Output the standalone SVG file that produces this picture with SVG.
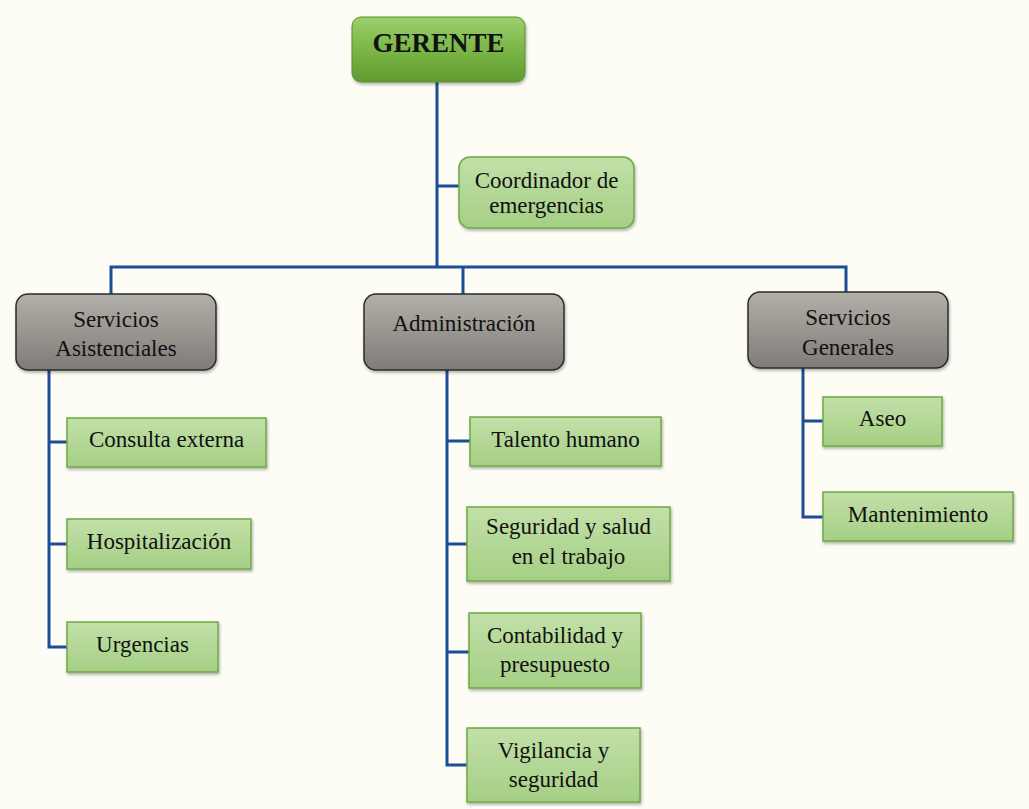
<svg xmlns="http://www.w3.org/2000/svg" width="1029" height="809" viewBox="0 0 1029 809">
<defs>
<linearGradient id="gTop" x1="0" y1="0" x2="0" y2="1">
<stop offset="0" stop-color="#9ccf6e"/><stop offset="0.5" stop-color="#7bb647"/><stop offset="1" stop-color="#5f9a2e"/>
</linearGradient>
<linearGradient id="gGrey" x1="0" y1="0" x2="0" y2="1">
<stop offset="0" stop-color="#b3afa9"/><stop offset="1" stop-color="#7f7b76"/>
</linearGradient>
<linearGradient id="gLight" x1="0" y1="0" x2="0" y2="1">
<stop offset="0" stop-color="#c2e0a8"/><stop offset="1" stop-color="#a5cf85"/>
</linearGradient>
<filter id="sh" x="-10%" y="-10%" width="120%" height="130%">
<feDropShadow dx="1" dy="2" stdDeviation="1.5" flood-color="#000" flood-opacity="0.3"/>
</filter>
</defs>
<style>
.t{font-family:"Liberation Serif","DejaVu Serif","Times New Roman",serif;font-size:23px;fill:#111;text-anchor:middle}
.tb{font-family:"Liberation Serif","DejaVu Serif","Times New Roman",serif;font-size:27px;font-weight:bold;fill:#111;text-anchor:middle}
.top{fill:url(#gTop);stroke:#5a8f2c;stroke-width:1}
.grey{fill:url(#gGrey);stroke:#2b2b2b;stroke-width:1.5}
.leaf{fill:url(#gLight);stroke:#6fa843;stroke-width:1.5}
.c{fill:none;stroke:#1d4d99;stroke-width:3}
</style>
<rect width="1029" height="809" fill="#fdfdf6"/>
<g id="connectors">
<path class="c" d="M437 82V267M437 186H459"/>
<path class="c" d="M111 294V267H846V292M463 267V294"/>
<path class="c" d="M49 370V647H67M49 442H67M49 544H67"/>
<path class="c" d="M447 370V765H467M447 441H470M447 544H467M447 652H469"/>
<path class="c" d="M803 368V517H823M803 421H823"/>
</g>
<g id="gerente"><rect class="top" x="352" y="17" width="173" height="65" rx="9" filter="url(#sh)"/><text class="tb" x="438.5" y="52">GERENTE</text></g>
<g id="coordinador"><rect class="leaf" x="459" y="157" width="175" height="71" rx="11" filter="url(#sh)"/><text class="t" x="546.5" y="188">Coordinador de</text><text class="t" x="546.5" y="213">emergencias</text></g>
<g id="asistenciales"><rect class="grey" x="16" y="294" width="200" height="76" rx="12" filter="url(#sh)"/><text class="t" x="116" y="327">Servicios</text><text class="t" x="116" y="356">Asistenciales</text></g>
<g id="administracion"><rect class="grey" x="364" y="294" width="200" height="76" rx="12" filter="url(#sh)"/><text class="t" x="464" y="331">Administración</text></g>
<g id="generales"><rect class="grey" x="748" y="292" width="200" height="76" rx="12" filter="url(#sh)"/><text class="t" x="848" y="325">Servicios</text><text class="t" x="848" y="355">Generales</text></g>
<g id="consulta"><rect class="leaf" x="67" y="418" width="199" height="49" filter="url(#sh)"/><text class="t" x="166.5" y="447">Consulta externa</text></g>
<g id="hospitalizacion"><rect class="leaf" x="67" y="519" width="184" height="50" filter="url(#sh)"/><text class="t" x="159" y="549">Hospitalización</text></g>
<g id="urgencias"><rect class="leaf" x="67" y="622" width="151" height="50" filter="url(#sh)"/><text class="t" x="142.5" y="652">Urgencias</text></g>
<g id="talento"><rect class="leaf" x="470" y="417" width="191" height="49" filter="url(#sh)"/><text class="t" x="565.5" y="447">Talento humano</text></g>
<g id="seguridad"><rect class="leaf" x="467" y="507" width="203" height="74" filter="url(#sh)"/><text class="t" x="568.5" y="534">Seguridad y salud</text><text class="t" x="568.5" y="564">en el trabajo</text></g>
<g id="contabilidad"><rect class="leaf" x="469" y="613" width="172" height="75" filter="url(#sh)"/><text class="t" x="555" y="643">Contabilidad y</text><text class="t" x="555" y="672">presupuesto</text></g>
<g id="vigilancia"><rect class="leaf" x="467" y="728" width="173" height="74" filter="url(#sh)"/><text class="t" x="553.5" y="758">Vigilancia y</text><text class="t" x="553.5" y="787">seguridad</text></g>
<g id="aseo"><rect class="leaf" x="823" y="397" width="119" height="49" filter="url(#sh)"/><text class="t" x="882.5" y="426">Aseo</text></g>
<g id="mantenimiento"><rect class="leaf" x="823" y="492" width="190" height="49" filter="url(#sh)"/><text class="t" x="918" y="522">Mantenimiento</text></g>
</svg>
